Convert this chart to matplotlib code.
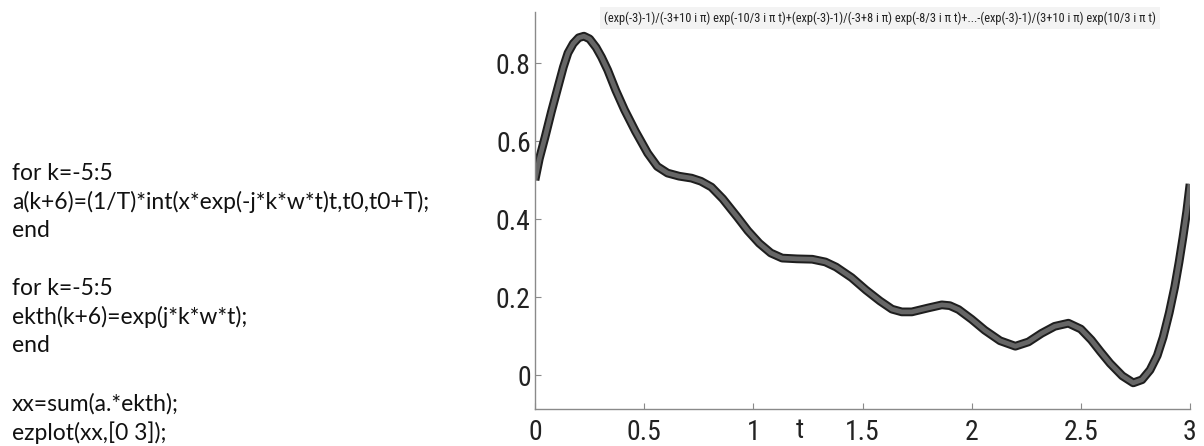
import matplotlib
matplotlib.use("Agg")
import matplotlib.pyplot as plt
import matplotlib.patheffects as pe

# ---- data ----
code_lines = [
    "for k=-5:5",
    "a(k+6)=(1/T)*int(x*exp(-j*k*w*t)t,t0,t0+T);",
    "end",
    "",
    "for k=-5:5",
    "ekth(k+6)=exp(j*k*w*t);",
    "end",
    "",
    "xx=sum(a.*ekth);",
    "ezplot(xx,[0 3]);",
]

t_vals = [0.0, 0.02, 0.046, 0.075, 0.105, 0.13, 0.151, 0.175, 0.2, 0.224,
          0.25, 0.28, 0.305, 0.333, 0.37, 0.41, 0.46, 0.516, 0.56, 0.607,
          0.66, 0.717, 0.76, 0.808, 0.86, 0.927, 0.975, 1.027, 1.08, 1.132,
          1.2, 1.27, 1.33, 1.379, 1.45, 1.516, 1.58, 1.635, 1.68, 1.726,
          1.8, 1.863, 1.9, 1.94, 2.0, 2.06, 2.13, 2.2, 2.26, 2.32, 2.38,
          2.443, 2.5, 2.548, 2.59, 2.634, 2.69, 2.74, 2.78, 2.817, 2.85,
          2.877, 2.905, 2.93, 2.95, 2.968, 2.985, 3.0]
x_vals = [0.50, 0.555, 0.61, 0.675, 0.738, 0.79, 0.826, 0.85, 0.865, 0.869,
          0.862, 0.84, 0.815, 0.782, 0.73, 0.68, 0.625, 0.569, 0.535, 0.518,
          0.51, 0.505, 0.497, 0.482, 0.452, 0.405, 0.37, 0.338, 0.313, 0.30,
          0.298, 0.297, 0.29, 0.277, 0.25, 0.218, 0.19, 0.169, 0.162, 0.162,
          0.172, 0.18, 0.178, 0.168, 0.143, 0.115, 0.088, 0.074, 0.085, 0.107,
          0.125, 0.133, 0.118, 0.09, 0.06, 0.03, -0.002, -0.02, -0.012, 0.013,
          0.05, 0.097, 0.16, 0.226, 0.29, 0.354, 0.42, 0.49]

x_ticks = [0, 0.5, 1, 1.5, 2, 2.5, 3]
x_tick_labels = ["0", "0.5", "1", "1.5", "2", "2.5", "3"]
y_ticks = [0, 0.2, 0.4, 0.6, 0.8]
y_tick_labels = ["0", "0.2", "0.4", "0.6", "0.8"]

title_text = ("(exp(-3)-1)/(-3+10 i \u03c0) exp(-10/3 i \u03c0 t)+(exp(-3)-1)/(-3+8 i \u03c0) "
              "exp(-8/3 i \u03c0 t)+...-(exp(-3)-1)/(3+10 i \u03c0) exp(10/3 i \u03c0 t)")
x_label = "t"

W, H = 1204, 446
fig = plt.figure(figsize=(W / 100, H / 100), dpi=100)
fig.patch.set_facecolor("white")

narrow = ["Liberation Sans Narrow", "Roboto Condensed", "Liberation Sans", "DejaVu Sans"]

# code text on the left
y0 = 173
for i, line in enumerate(code_lines):
    if line:
        fig.text(12 / W, 1 - (y0 + i * 28.8) / H, line, family=["Lato", "DejaVu Sans"],
                 fontsize=16.5, color="#111111", va="center", ha="left")

# axes
left_px, right_px, top_px, bottom_px = 535, 1190, 12, 409
ax = fig.add_axes([left_px / W, 1 - bottom_px / H, (right_px - left_px) / W,
                   (bottom_px - top_px) / H])
ax.set_xlim(0, 3)
ax.set_ylim(-0.087, 0.931)

ax.plot(t_vals, x_vals, color="#666666", lw=3.4, solid_capstyle="butt",
        solid_joinstyle="round",
        path_effects=[pe.Stroke(linewidth=6.3, foreground="#1e1e1e",
                                joinstyle="round"), pe.Normal()])

for s in ["top", "right"]:
    ax.spines[s].set_visible(False)
for s in ["left", "bottom"]:
    ax.spines[s].set_color("#8a8a8a")
    ax.spines[s].set_linewidth(1.0)

ax.set_xticks(x_ticks)
ax.set_xticklabels(x_tick_labels)
ax.set_yticks(y_ticks)
ax.set_yticklabels(y_tick_labels)
ax.tick_params(direction="in", length=4, width=0.8, color="#8a8a8a",
               labelsize=20, labelcolor="#222222")
ax.tick_params(axis="x", pad=7)
ax.tick_params(axis="y", pad=3)
for lab in ax.get_xticklabels() + ax.get_yticklabels():
    lab.set_family(narrow)

ax.set_xlabel(x_label, family=narrow, fontsize=20, color="#222222")
ax.xaxis.set_label_coords((800 - left_px) / (right_px - left_px),
                          -(430 - bottom_px) / (bottom_px - top_px))
ax.xaxis.label.set_va("center")

fig.text(880 / W, 1 - 18 / H, title_text, family=narrow, fontsize=8.9,
         color="#222222", ha="center", va="center",
         bbox=dict(facecolor="#f3f3f3", edgecolor="none", pad=3))

fig.savefig("out.png", dpi=100)
